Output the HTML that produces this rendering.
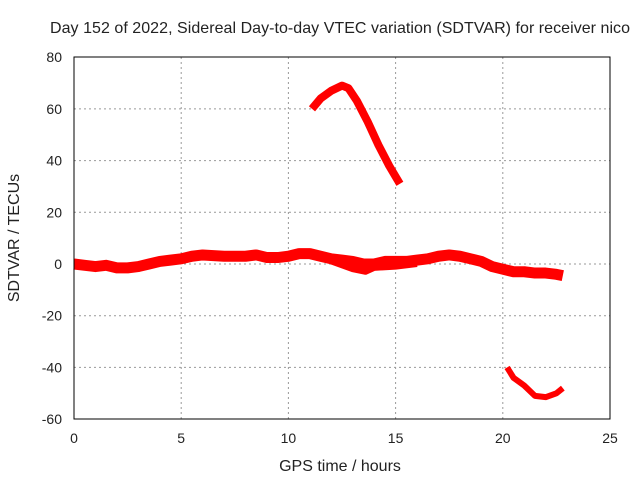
<!DOCTYPE html>
<html><head><meta charset="utf-8"><style>body{margin:0;background:#fff}svg{display:block}text{font-family:"Liberation Sans",sans-serif;font-size:14px;fill:#222}.big{font-size:16px}</style></head>
<body>
<svg id="chart" width="640" height="480">
<text class="big" x="340" y="33" text-anchor="middle" textLength="580">Day 152 of 2022, Sidereal Day-to-day VTEC variation (SDTVAR) for receiver nico</text>
<text class="big" x="340" y="471" text-anchor="middle">GPS time / hours</text>
<text class="big" transform="translate(19,238) rotate(-90)" text-anchor="middle">SDTVAR / TECUs</text>
<g id="grid"></g><g id="ticks"></g><g id="series"></g>
<rect x="74" y="57" width="536" height="362" fill="none" stroke="#000" stroke-width="1"/>
</svg>
<script>
const xTicks=[0,5,10,15,20,25];
const yTicks=[80,60,40,20,0,-20,-40,-60];
const mainT=[0,0.5,1,1.5,2,2.5,3,3.5,4,4.5,5,5.5,6,7,7.5,8,8.5,9,9.5,10,10.5,11,11.5,12,12.5,13,13.5,14,14.5,15,15.5,16,16.5,17,17.5,18,18.5,19,19.5,20,20.5,21,21.5,22,22.5,22.8];
const mainV=[0,-0.5,-1,-0.5,-1.5,-1.5,-1,0,1,1.5,2,3,3.5,3,3,3,3.5,2.5,2.5,3,4,4,3,2,1.5,1,0,0,1,1,1,1.5,2,3,3.5,3,2,1,-1,-2,-3,-3,-3.5,-3.5,-4,-4.5];
const lowT=[12,13,13.6,14,15,16];
const lowV=[1,-2,-3,-1.5,-1,0];
const peakT=[11.1,11.5,12,12.5,12.8,13.2,13.7,14.2,14.7,15.2];
const peakV=[60,64,67,69,68,63,55,46,38,31];
const dipT=[20.2,20.5,21,21.5,22,22.5,22.8];
const dipV=[-40,-44,-47,-51,-51.5,-50,-48];
const NS="http://www.w3.org/2000/svg";
const X=t=>74+t*(536/25);
const Y=v=>264-v*(362/140);
const g=document.getElementById('grid'),tk=document.getElementById('ticks'),s=document.getElementById('series');
function mk(tag,a,p){const e=document.createElementNS(NS,tag);for(const k in a)e.setAttribute(k,a[k]);p.appendChild(e);return e;}
xTicks.forEach(t=>{
 if(t>0&&t<25){const l=mk('line',{x1:X(t),x2:X(t),y1:57,y2:419,stroke:'#999','stroke-dasharray':'2,3'},g);
 
 }
 const tx=mk('text',{x:X(t),y:443,'text-anchor':'middle'},tk);tx.textContent=t;
 
 
});
yTicks.forEach(v=>{
 if(v<80&&v>-60){const l=mk('line',{x1:74,x2:610,y1:Y(v),y2:Y(v),stroke:'#999','stroke-dasharray':'2,3'},g);
 
 }
 const tx=mk('text',{x:62,y:Y(v)+5,'text-anchor':'end'},tk);tx.textContent=v;
 
 
});
function line(T,V,name,w){
 const p=mk('polyline',{points:T.map((t,i)=>X(t)+','+Y(V[i])).join(' '),fill:'none',stroke:'#f00','stroke-width':w,'stroke-linejoin':'round','stroke-linecap':'butt'},s);
 
 
}
line(mainT,mainV,'main-series',11);
line(lowT,lowV,'low-series',6);
line(peakT,peakV,'peak-series',8);
line(dipT,dipV,'dip-series',6);
</script>
</body></html>
